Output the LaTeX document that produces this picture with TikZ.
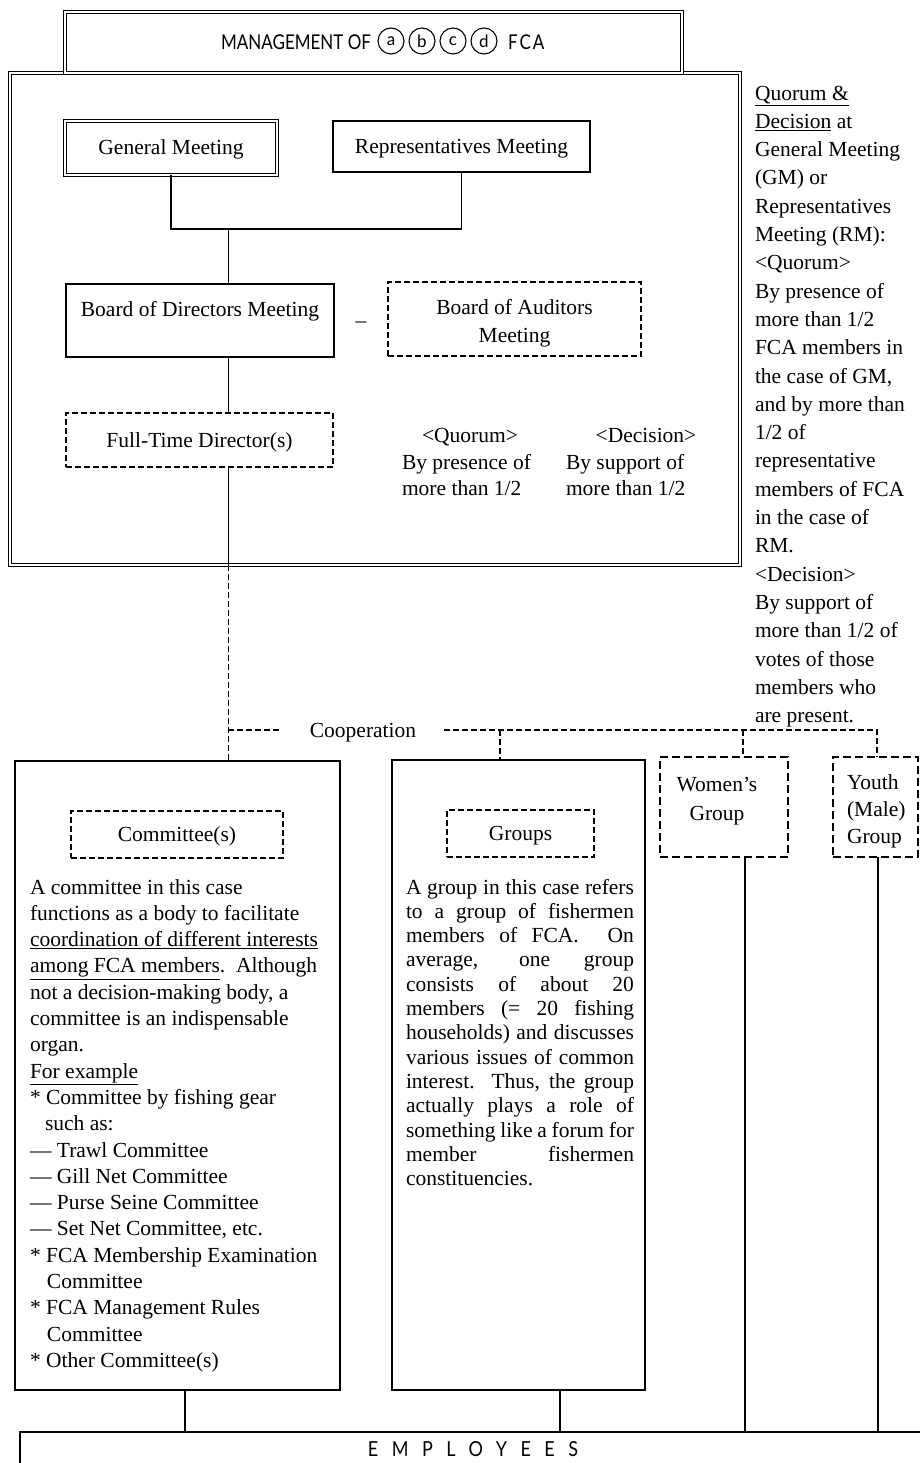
\documentclass[tikz,border=0pt]{standalone}
\usepackage{fontspec}
\setmainfont{Liberation Serif}
\newfontfamily\titlefont{Lato}
\usetikzlibrary{calc}
\newcommand{\jl}[1]{\makebox[228pt][s]{#1}\\}
\begin{document}
\begin{tikzpicture}[x=1pt,y=-1pt,
  every node/.style={inner sep=0pt,outer sep=0pt},
  txt/.style={font=\fontsize{21.5}{28.3}\selectfont},
  one/.style={txt,text height=14pt,text depth=0pt},
  sbox/.style={draw,line width=1.4pt},
  dbox/.style={draw,double,double distance=1.8pt,line width=0.9pt},
  dsbox/.style={draw,line width=1.3pt,dash pattern=on 6pt off 3pt},
  dsboxb/.style={draw,line width=1.8pt,dash pattern=on 8pt off 4pt},
  conn/.style={line width=1.3pt},
  dconn/.style={line width=1.2pt,dash pattern=on 6pt off 3pt},
  circ/.style={circle,draw,line width=1.1pt,minimum size=26pt,font=\titlefont\fontsize{17}{17}\selectfont},
]
\useasboundingbox (0,0) rectangle (920,1463);

% ---- top: management box
\node[dbox,minimum width=730,minimum height=492] (main) at (375,319) {};
\node[dbox,fill=white,minimum width=617,minimum height=61] (title) at (373.5,42.5) {};
\node[anchor=east,text height=15pt,text depth=0pt] (mgmt) at (371,42)
  {\titlefont\fontsize{17}{20}\selectfont\scalebox{1}[1.2]{MANAGEMENT OF}};
\node[circ] (ca) at (391,41) {a};
\node[circ] (cb) at (422,41) {b};
\node[circ] (cc) at (453,41) {c};
\node[circ] (cd) at (484,41) {d};
\node[anchor=west,text height=15pt,text depth=0pt] (fca) at (508,42)
  {\titlefont\fontsize{17}{20}\selectfont\addfontfeatures{LetterSpace=12}\scalebox{1}[1.2]{FCA}};

\node[dbox,one,minimum width=212,minimum height=54] (gm) at (171,148) {General Meeting};
\node[sbox,one,minimum width=257,minimum height=51] (rm) at (461.5,146.5) {Representatives Meeting};
\node[sbox,txt,minimum width=268,minimum height=73,text height=32pt,text depth=41pt] (bod) at (200,320.5) {Board of Directors Meeting};
\node[one] (bar) at (361,320) {–};
\node[dsbox,minimum width=253,minimum height=74] (boa) at (514.5,319) {};
\node[txt,align=center] (boatext) at (514.5,323) {Board of Auditors\\Meeting};
\node[dsbox,one,minimum width=267,minimum height=54] (ftd) at (199.5,440) {Full-Time Director(s)};

\node[txt,anchor=base] (q1) at (470,442) {<Quorum>};
\node[txt,anchor=base west] (q2) at (402,469) {By presence of};
\node[txt,anchor=base west] (q3) at (402,495) {more than 1/2};
\node[txt,anchor=base] (d1) at (646,442) {<Decision>};
\node[txt,anchor=base west] (d2) at (566,469) {By support of};
\node[txt,anchor=base west] (d3) at (566,495) {more than 1/2};

% ---- right column note
\node[txt,anchor=north west,align=left] (note) at (755,80.2) {\strut\underline{Quorum \&}\\
\underline{Decision} at\\
General Meeting\\
(GM) or\\
Representatives\\
Meeting (RM):\\
<Quorum>\\
By presence of\\
more than 1/2\\
FCA members in\\
the case of GM,\\
and by more than\\
1/2 of\\
representative\\
members of FCA\\
in the case of\\
RM.\\
<Decision>\\
By support of\\
more than 1/2 of\\
votes of those\\
members who\\
are present.};

% ---- connectors in the top box
\coordinate (bj) at ($(bod.north west)!0.606!(bod.north east)$);
\draw[conn] (gm.south) -- ++(0,54) coordinate (gmj) -| (rm.south);
\draw[conn] (bj |- gmj) -- (bj);
\draw[conn] (bj |- bod.south) -- (bj |- ftd.north);
\draw[conn] (bj |- ftd.south) -- (bj |- main.south);

% ---- lower boxes
\node[sbox,minimum width=325,minimum height=629] (comm) at (177.5,1075.5) {};
\node[dsbox,one,minimum width=212,minimum height=47] (commh) at (177,834.5) {Committee(s)};
\node[sbox,minimum width=253,minimum height=630] (grp) at (518.5,1075) {};
\node[dsbox,one,minimum width=147,minimum height=47] (grph) at (520.5,833.5) {Groups};
\node[dsboxb,minimum width=128,minimum height=100] (women) at (724,807) {};
\node[txt,align=center,anchor=north] (wtext) at (717,772) {\strut Women's\\Group};
\node[dsboxb,minimum width=85,minimum height=100] (youth) at (875.5,807) {};
\node[txt,font=\fontsize{21.5}{27}\selectfont,align=left,anchor=north west] (ytext) at (847,771) {\strut Youth\\(Male)\\Group};

\node[txt,font=\fontsize{21.5}{26.3}\selectfont,anchor=north west,align=left] (commtext) at (30,875.6) {\strut A committee in this case\\
functions as a body to facilitate\\
\underline{coordination of different interests}\\
\underline{among FCA members}.\ \ Although\\
not a decision-making body, a\\
committee is an indispensable\\
organ.\\
\underline{For example}\\
* Committee by fishing gear\\
\hspace*{15pt}such as:\\
— Trawl Committee\\
— Gill Net Committee\\
— Purse Seine Committee\\
— Set Net Committee, etc.\\
* FCA Membership Examination\\
\hspace*{17pt}Committee\\
* FCA Management Rules\\
\hspace*{17pt}Committee\\
* Other Committee(s)};

\node[txt,font=\fontsize{21.5}{24.3}\selectfont,anchor=north west,align=left] (grptext) at (406,877) {\strut\jl{A group in this case refers}
\jl{to a group of fishermen}
\jl{members of FCA.\ \ On}
\jl{average, one group}
\jl{consists of about 20}
\jl{members (= 20 fishing}
\jl{households) and discusses}
\jl{various issues of common}
\jl{interest.\ \ Thus, the group}
\jl{actually plays a role of}
\jl{something like a forum for}
\jl{member fishermen}
constituencies.};

% ---- cooperation
\node[txt,text height=14pt,text depth=0pt,inner xsep=28pt] (coop) at (363,730) {Cooperation};
\coordinate (gb) at ($(grp.north west)!0.427!(grp.north east)$);
\coordinate (wb) at ($(women.north west)!0.648!(women.north east)$);
\coordinate (yb) at ($(youth.north west)!0.518!(youth.north east)$);
\draw[dconn] (bj |- main.south) -- (bj |- comm.north);
\draw[dconn] (bj |- coop) -- (coop.west);
\draw[dconn] (coop.east) -- (coop.east -| yb) -- (yb);
\draw[dconn] (gb |- coop) -- (gb);
\draw[dconn] (wb |- coop) -- (wb);

% ---- employees
\node[sbox,minimum width=920,minimum height=80,anchor=north west] (emp) at (20,1432) {};
\node[text height=14pt,text depth=0pt] (emptext) at (473,1449) {\titlefont\fontsize{18}{18}\selectfont\addfontfeatures{LetterSpace=75}\scalebox{1}[1.15]{EMPLOYEES}};
\coordinate (cs) at ($(comm.south west)!0.523!(comm.south east)$);
\coordinate (gs) at ($(grp.south west)!0.664!(grp.south east)$);
\coordinate (ws) at ($(women.south west)!0.664!(women.south east)$);
\coordinate (ys) at ($(youth.south west)!0.53!(youth.south east)$);
\draw[conn] (cs) -- (cs |- emp.north);
\draw[conn] (gs) -- (gs |- emp.north);
\draw[conn] (ws) -- (ws |- emp.north);
\draw[conn] (ys) -- (ys |- emp.north);
\end{tikzpicture}
\end{document}
